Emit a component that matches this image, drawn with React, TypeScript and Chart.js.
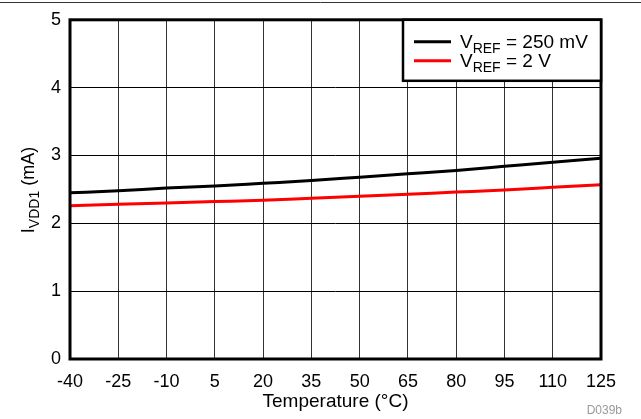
import React, { useEffect, useRef } from "react";
import { Chart, registerables } from "chart.js";

Chart.register(...registerables);

const temperatures = [-40, -25, -10, 5, 20, 35, 50, 65, 80, 95, 110, 125];
const vref250mV = [2.45, 2.48, 2.52, 2.55, 2.59, 2.63, 2.68, 2.73, 2.78, 2.84, 2.9, 2.96];
const vref2V = [2.26, 2.28, 2.3, 2.32, 2.34, 2.37, 2.4, 2.43, 2.46, 2.49, 2.53, 2.57];
const seriesNames = [
  ["V", "REF", " = 250 mV"],
  ["V", "REF", " = 2 V"],
];
const seriesColors = ["#000000", "#ff0000"];
const xTitle = "Temperature (°C)";
const yTitleParts = ["I", "VDD1", " (mA)"];
const footnote = "D039b";

const FONT = "'Liberation Sans', Arial, sans-serif";

function drawSubText(
  ctx: CanvasRenderingContext2D,
  parts: string[],
  x: number,
  y: number,
  size: number,
  align: "left" | "center"
) {
  const sub = Math.round(size * 0.75);
  ctx.textBaseline = "alphabetic";
  ctx.textAlign = "left";
  const widths: number[] = parts.map((p, i) => {
    ctx.font = `${i === 1 ? sub : size}px ${FONT}`;
    return ctx.measureText(p).width;
  });
  const total = widths.reduce((a, b) => a + b, 0);
  let cx = align === "center" ? x - total / 2 : x;
  parts.forEach((p, i) => {
    ctx.font = `${i === 1 ? sub : size}px ${FONT}`;
    ctx.fillText(p, cx, i === 1 ? y + size * 0.25 : y);
    cx += widths[i];
  });
}

const decorPlugin = {
  id: "decor",
  afterDraw(chart: any) {
    const ctx: CanvasRenderingContext2D = chart.ctx;
    const { left, right, top, bottom } = chart.chartArea;
    ctx.save();
    ctx.strokeStyle = "#000";
    ctx.lineWidth = 3;
    ctx.strokeRect(left, top, right - left, bottom - top);
    ctx.lineWidth = 1;
    ctx.strokeStyle = "#333";
    ctx.beginPath();
    ctx.moveTo(0, 2.5);
    ctx.lineTo(chart.width, 2.5);
    ctx.stroke();
    // legend
    const lx = 403, ly = top, lw = right - 403, lh = 61;
    ctx.fillStyle = "#fff";
    ctx.fillRect(lx, ly, lw, lh);
    ctx.lineWidth = 2.5;
    ctx.strokeStyle = "#000";
    ctx.strokeRect(lx, ly, lw, lh);
    seriesNames.forEach((parts, i) => {
      const yy = ly + 22 + i * 19;
      ctx.strokeStyle = seriesColors[i];
      ctx.lineWidth = 3;
      ctx.beginPath();
      ctx.moveTo(414, yy);
      ctx.lineTo(451, yy);
      ctx.stroke();
      ctx.fillStyle = "#000";
      drawSubText(ctx, parts, 460, yy + 6, 19, "left");
    });
    // x title
    ctx.fillStyle = "#000";
    ctx.font = `19px ${FONT}`;
    ctx.textAlign = "center";
    ctx.textBaseline = "alphabetic";
    ctx.fillText(xTitle, (left + right) / 2, 407);
    // y title
    ctx.save();
    ctx.translate(34, 190);
    ctx.rotate(-Math.PI / 2);
    drawSubText(ctx, yTitleParts, 0, 0, 18, "center");
    ctx.restore();
    ctx.fillStyle = "#999";
    ctx.font = `12px ${FONT}`;
    ctx.textAlign = "right";
    ctx.fillText(footnote, 622, 414);
    ctx.restore();
  },
};

export default function App() {
  const ref = useRef<HTMLCanvasElement>(null);
  useEffect(() => {
    document.body.style.margin = "0";
    const chart = new Chart(ref.current!, {
      type: "line",
      data: {
        labels: temperatures,
        datasets: [
          {
            label: "VREF = 250 mV",
            data: temperatures.map((t, i) => ({ x: t, y: vref250mV[i] })),
            borderColor: seriesColors[0],
            borderWidth: 3,
            pointRadius: 0,
            cubicInterpolationMode: "monotone",
          },
          {
            label: "VREF = 2 V",
            data: temperatures.map((t, i) => ({ x: t, y: vref2V[i] })),
            borderColor: seriesColors[1],
            borderWidth: 3,
            pointRadius: 0,
            cubicInterpolationMode: "monotone",
          },
        ],
      },
      options: {
        responsive: false,
        animation: false,
        devicePixelRatio: 1,
        layout: { padding: { top: 19, right: 40, left: 0, bottom: 0 } },
        plugins: { legend: { display: false }, tooltip: { enabled: false } },
        scales: {
          x: {
            type: "linear",
            min: -40,
            max: 125,
            ticks: {
              stepSize: 15,
              color: "#000",
              font: { family: FONT, size: 18 },
              padding: 12,
              maxRotation: 0,
              autoSkip: false,
            },
            grid: { color: "#333", lineWidth: 1, drawTicks: false },
            border: { display: false },
            afterFit: (s: any) => {
              s.height = 60;
            },
          },
          y: {
            min: 0,
            max: 5,
            ticks: {
              stepSize: 1,
              color: "#000",
              font: { family: FONT, size: 18 },
              padding: 9,
            },
            grid: { color: "#000", lineWidth: 1, drawTicks: false },
            border: { display: false },
            afterFit: (s: any) => {
              s.width = 70;
            },
          },
        },
      },
      plugins: [decorPlugin],
    });
    return () => chart.destroy();
  }, []);
  return (
    <div style={{ width: 641, height: 419 }}>
      <canvas ref={ref} width={641} height={419} />
    </div>
  );
}
